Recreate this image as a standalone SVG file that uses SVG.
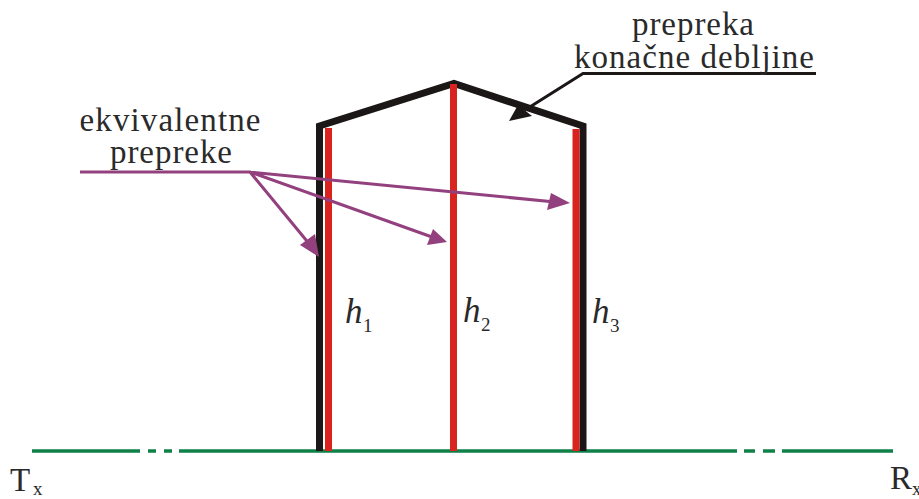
<svg xmlns="http://www.w3.org/2000/svg" width="919" height="499" viewBox="0 0 919 499">
<style>
text{font-family:"Liberation Serif","Times New Roman",serif;fill:#2a2a2a}
.l{font-size:33px}
.h{font-size:35px;font-style:italic}
.s{font-size:19px}
.t{font-size:33px}
.red{stroke:#d8231f;stroke-width:7;fill:none}
.blk{stroke:#1a1716;stroke-width:7;fill:none;stroke-linejoin:miter}
.grn{stroke:#0f8048;stroke-width:3.5;fill:none}
.pur{stroke:#93407f;stroke-width:3;fill:none}
.pura{fill:#93407f}
</style>
<rect width="919" height="499" fill="#fff"/>
<g id="ground">
<path class="grn" d="M32 451H140M148 451H156M164 451H172M179 451H737M744 451H755M763 451H775M782 451H893"/>
</g>
<g id="obstacle">
<path class="blk" d="M319.500 451V126L454 83.500L583 126V451"/>
</g>
<g id="equivalent-obstacles">
<path class="red" d="M328.500 128V451M453.500 84V451M576 129V451"/>
</g>
<g id="connectors">
<path class="pur" d="M80 172H250L311 246M250 172L432 237M250 172L555 202"/>
<path class="pura" d="M319 257L300 245L315 234Z"/>
<path class="pura" d="M447 242L427 245L433 229Z"/>
<path class="pura" d="M570 203L547 210L551 193Z"/>
<path d="M816 73.500H583L525 110" fill="none" stroke="#1a1716" stroke-width="3"/>
<path d="M509 121L518 105L532 116Z" fill="#1a1716"/>
</g>
<g id="label-ekvivalentne">
<text class="l" x="170" y="131" text-anchor="middle" textLength="181" lengthAdjust="spacing">ekvivalentne</text>
<text class="l" x="171" y="163" text-anchor="middle" textLength="122" lengthAdjust="spacing">prepreke</text>
</g>
<g id="label-prepreka">
<text class="l" x="693" y="35" text-anchor="middle" textLength="122" lengthAdjust="spacing">prepreka</text>
<text class="l" x="694" y="68" text-anchor="middle" textLength="240" lengthAdjust="spacing">konačne debljine</text>
</g>
<g id="label-h1"><text class="h" x="345" y="323">h</text><text class="s" x="363" y="332">1</text></g>
<g id="label-h2"><text class="h" x="463" y="322">h</text><text class="s" x="481" y="331">2</text></g>
<g id="label-h3"><text class="h" x="592" y="323">h</text><text class="s" x="610" y="332">3</text></g>
<g id="label-tx"><text class="t" x="10" y="491">T</text><text class="s" x="33" y="495">x</text></g>
<g id="label-rx"><text class="t" x="890" y="489">R</text><text class="s" x="912" y="495">x</text></g>
</svg>
